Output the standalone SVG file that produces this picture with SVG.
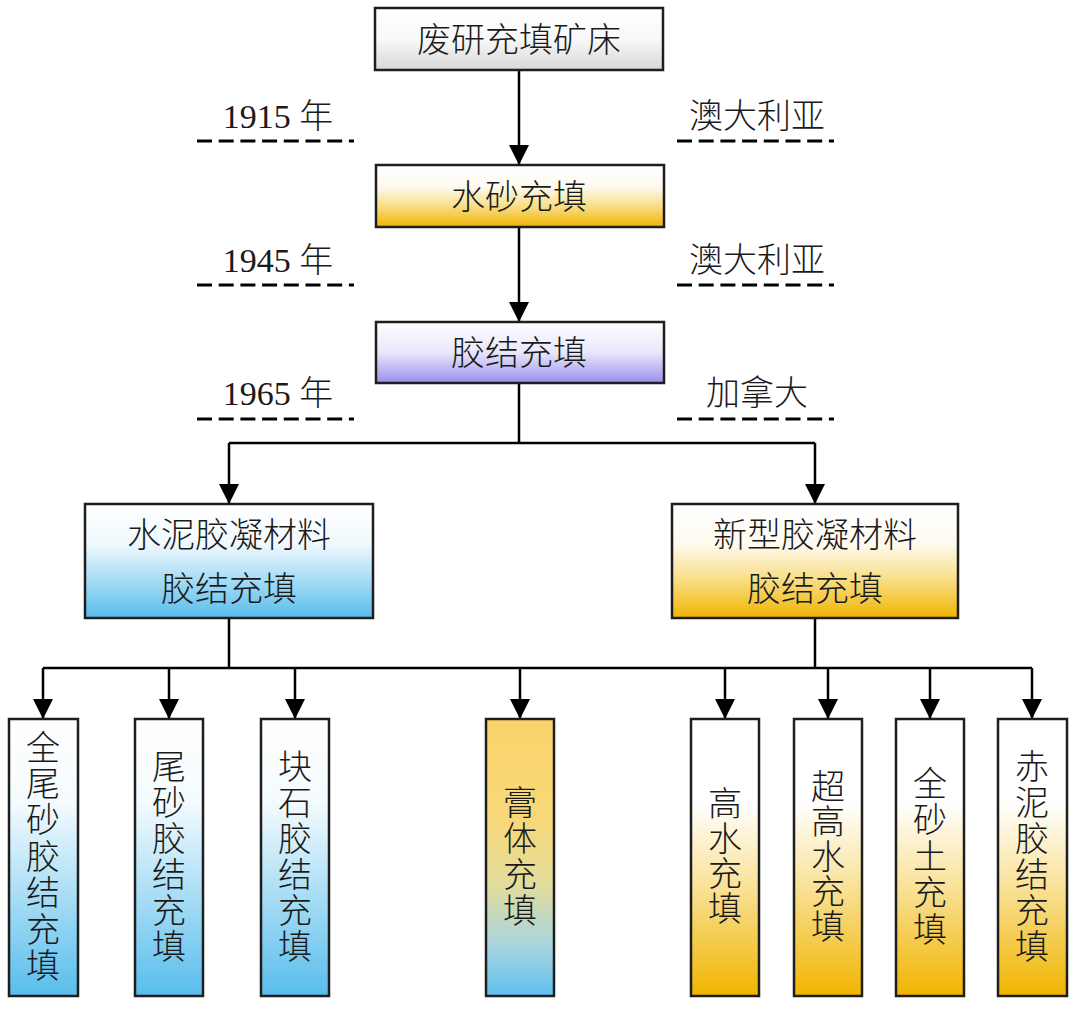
<svg xmlns="http://www.w3.org/2000/svg" width="1080" height="1009" viewBox="0 0 1080 1009">
<defs>
<linearGradient id="gGray" x1="0" y1="0" x2="0" y2="1"><stop offset="0" stop-color="#ffffff"/><stop offset="0.5" stop-color="#f8f8f8"/><stop offset="1" stop-color="#d8d8d8"/></linearGradient>
<linearGradient id="gYellow" x1="0" y1="0" x2="0" y2="1"><stop offset="0" stop-color="#ffffff"/><stop offset="0.35" stop-color="#fefaf0"/><stop offset="0.65" stop-color="#f9df8a"/><stop offset="1" stop-color="#f0b400"/></linearGradient>
<linearGradient id="gPurple" x1="0" y1="0" x2="0" y2="1"><stop offset="0" stop-color="#ffffff"/><stop offset="0.5" stop-color="#e9e6fb"/><stop offset="1" stop-color="#9a8fee"/></linearGradient>
<linearGradient id="gBlue" x1="0" y1="0" x2="0" y2="1"><stop offset="0" stop-color="#ffffff"/><stop offset="0.35" stop-color="#f0f9fd"/><stop offset="1" stop-color="#58bdec"/></linearGradient>
<linearGradient id="gYellowV" x1="0" y1="0" x2="0" y2="1"><stop offset="0" stop-color="#ffffff"/><stop offset="0.3" stop-color="#ffffff"/><stop offset="0.6" stop-color="#f9e29a"/><stop offset="1" stop-color="#f0b400"/></linearGradient>
<linearGradient id="gBlueV" x1="0" y1="0" x2="0" y2="1"><stop offset="0" stop-color="#ffffff"/><stop offset="0.3" stop-color="#f4fbfe"/><stop offset="1" stop-color="#58bdec"/></linearGradient>
<linearGradient id="gMix" x1="0" y1="0" x2="0" y2="1"><stop offset="0" stop-color="#f9d46a"/><stop offset="0.35" stop-color="#f8d878"/><stop offset="0.6" stop-color="#e2dc9c"/><stop offset="0.82" stop-color="#a8d4e0"/><stop offset="1" stop-color="#5fc0ee"/></linearGradient>
<marker id="arr" viewBox="0 0 20 20" refX="20" refY="10" markerWidth="20" markerHeight="20" markerUnits="userSpaceOnUse" orient="auto"><path d="M0,0 L20,10 L0,20 Z" fill="#000"/></marker>
<style>
.box{stroke:#1e1e1e;stroke-width:2.5}
.t{font-family:"Liberation Serif","Noto Sans CJK SC",serif;font-size:34px;font-weight:300;fill:#1a1a1a;dominant-baseline:central;text-anchor:middle}
.lbl{font-family:"Liberation Serif","Noto Sans CJK SC",serif;font-size:34px;font-weight:300;fill:#1a1a1a;text-anchor:middle}
.ln{stroke:#000;stroke-width:2.5;fill:none}
.dash{stroke:#000;stroke-width:3;stroke-dasharray:15 6.7;fill:none}
</style>
</defs>

<g id="labels">
<text class="lbl" x="278" y="128">1915 年</text>
<text class="lbl" x="757" y="128">澳大利亚</text>
<text class="lbl" x="278" y="272">1945 年</text>
<text class="lbl" x="757" y="272">澳大利亚</text>
<text class="lbl" x="278" y="405">1965 年</text>
<text class="lbl" x="757" y="405">加拿大</text>
<path class="dash" d="M197,141 H354 M677,141 H834 M197,285 H354 M677,285 H834 M197,419 H354 M677,419 H834"/>
</g>

<g id="connectors">
<line class="ln" x1="519" y1="70" x2="519" y2="165" marker-end="url(#arr)"/>
<line class="ln" x1="519" y1="227" x2="519" y2="322" marker-end="url(#arr)"/>
<polyline class="ln" points="519,383 519,443"/>
<polyline class="ln" points="229,443 815,443"/>
<line class="ln" x1="229" y1="443" x2="229" y2="504" marker-end="url(#arr)"/>
<line class="ln" x1="815" y1="443" x2="815" y2="504" marker-end="url(#arr)"/>
<polyline class="ln" points="229,618 229,668"/>
<polyline class="ln" points="815,618 815,668"/>
<polyline class="ln" points="43,668 1032,668"/>
<line class="ln" x1="43" y1="668" x2="43" y2="719" marker-end="url(#arr)"/>
<line class="ln" x1="169" y1="668" x2="169" y2="719" marker-end="url(#arr)"/>
<line class="ln" x1="295" y1="668" x2="295" y2="719" marker-end="url(#arr)"/>
<line class="ln" x1="520" y1="668" x2="520" y2="719" marker-end="url(#arr)"/>
<line class="ln" x1="725" y1="668" x2="725" y2="719" marker-end="url(#arr)"/>
<line class="ln" x1="828" y1="668" x2="828" y2="719" marker-end="url(#arr)"/>
<line class="ln" x1="930" y1="668" x2="930" y2="719" marker-end="url(#arr)"/>
<line class="ln" x1="1032" y1="668" x2="1032" y2="719" marker-end="url(#arr)"/>
</g>

<g id="n-top"><rect class="box" x="375" y="8" width="288" height="62" fill="url(#gGray)"/><text class="t" x="519" y="40">废研充填矿床</text></g>
<g id="n-shui"><rect class="box" x="376" y="165" width="288" height="62" fill="url(#gYellow)"/><text class="t" x="519" y="197">水砂充填</text></g>
<g id="n-jiao"><rect class="box" x="376" y="322" width="288" height="61" fill="url(#gPurple)"/><text class="t" x="519" y="353">胶结充填</text></g>
<g id="n-cement"><rect class="box" x="85" y="504" width="288" height="114" fill="url(#gBlue)"/><text class="t" x="229" y="535">水泥胶凝材料</text><text class="t" x="229" y="589">胶结充填</text></g>
<g id="n-new"><rect class="box" x="672" y="504" width="286" height="114" fill="url(#gYellow)"/><text class="t" x="815" y="535">新型胶凝材料</text><text class="t" x="815" y="589">胶结充填</text></g>

<g id="n-b1"><rect class="box" x="9" y="719" width="69" height="277" fill="url(#gBlueV)"/>
<text class="t" x="43"><tspan x="43" y="748">全</tspan><tspan x="43" y="784">尾</tspan><tspan x="43" y="820">砂</tspan><tspan x="43" y="857">胶</tspan><tspan x="43" y="893">结</tspan><tspan x="43" y="930">充</tspan><tspan x="43" y="966">填</tspan></text></g>
<g id="n-b2"><rect class="box" x="135" y="719" width="68" height="277" fill="url(#gBlueV)"/>
<text class="t" x="169"><tspan x="169" y="767">尾</tspan><tspan x="169" y="803">砂</tspan><tspan x="169" y="839">胶</tspan><tspan x="169" y="875">结</tspan><tspan x="169" y="911">充</tspan><tspan x="169" y="947">填</tspan></text></g>
<g id="n-b3"><rect class="box" x="261" y="719" width="68" height="277" fill="url(#gBlueV)"/>
<text class="t" x="295"><tspan x="295" y="767">块</tspan><tspan x="295" y="803">石</tspan><tspan x="295" y="839">胶</tspan><tspan x="295" y="875">结</tspan><tspan x="295" y="911">充</tspan><tspan x="295" y="947">填</tspan></text></g>
<g id="n-b4"><rect class="box" x="486" y="719" width="68" height="277" fill="url(#gMix)"/>
<text class="t" x="520"><tspan x="520" y="803">膏</tspan><tspan x="520" y="839">体</tspan><tspan x="520" y="875">充</tspan><tspan x="520" y="911">填</tspan></text></g>
<g id="n-b5"><rect class="box" x="691" y="719" width="68" height="277" fill="url(#gYellowV)"/>
<text class="t" x="725"><tspan x="725" y="804">高</tspan><tspan x="725" y="839">水</tspan><tspan x="725" y="874">充</tspan><tspan x="725" y="909">填</tspan></text></g>
<g id="n-b6"><rect class="box" x="794" y="719" width="68" height="277" fill="url(#gYellowV)"/>
<text class="t" x="828"><tspan x="828" y="787">超</tspan><tspan x="828" y="822">高</tspan><tspan x="828" y="857">水</tspan><tspan x="828" y="892">充</tspan><tspan x="828" y="927">填</tspan></text></g>
<g id="n-b7"><rect class="box" x="896" y="719" width="68" height="277" fill="url(#gYellowV)"/>
<text class="t" x="930"><tspan x="930" y="784">全</tspan><tspan x="930" y="820">砂</tspan><tspan x="930" y="857">土</tspan><tspan x="930" y="893">充</tspan><tspan x="930" y="930">填</tspan></text></g>
<g id="n-b8"><rect class="box" x="998" y="719" width="69" height="277" fill="url(#gYellowV)"/>
<text class="t" x="1032"><tspan x="1032" y="767">赤</tspan><tspan x="1032" y="803">泥</tspan><tspan x="1032" y="839">胶</tspan><tspan x="1032" y="875">结</tspan><tspan x="1032" y="911">充</tspan><tspan x="1032" y="947">填</tspan></text></g>
</svg>
